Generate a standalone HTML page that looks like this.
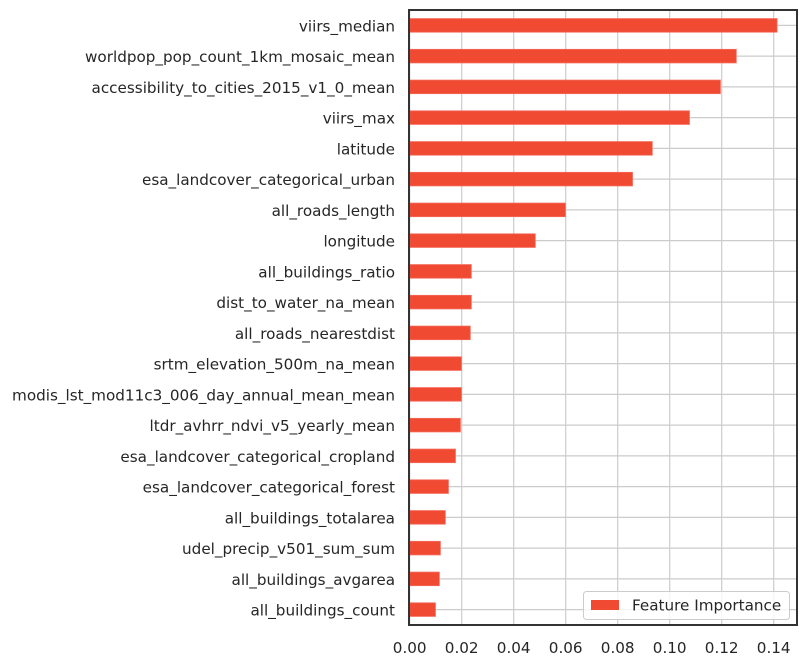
<!DOCTYPE html>
<html><head><meta charset="utf-8"><style>
body{margin:0;background:#fff;}
svg text{font-family:"DejaVu Sans","Liberation Sans",sans-serif;fill:#262626;font-size:15.2px;}
</style></head><body>
<svg id="chart" width="806" height="664" viewBox="0 0 806 664" xmlns="http://www.w3.org/2000/svg">
<g id="grid"></g>
<g id="bars"></g>
<g id="ylabels"></g>
<g id="xlabels"></g>
<rect x="409" y="10" width="388" height="615" fill="none" stroke="#333" stroke-width="2"/>
<g>
<rect x="583.5" y="591.5" width="206" height="28" rx="3" fill="#fff" fill-opacity="0.8" stroke="#ccc"/>
<rect x="591" y="600" width="28" height="10" fill="#f04a33"/>
<text x="632" y="610.5">Feature Importance</text>
</g>
</svg>
<script>
const categories=["viirs_median","worldpop_pop_count_1km_mosaic_mean","accessibility_to_cities_2015_v1_0_mean","viirs_max","latitude","esa_landcover_categorical_urban","all_roads_length","longitude","all_buildings_ratio","dist_to_water_na_mean","all_roads_nearestdist","srtm_elevation_500m_na_mean","modis_lst_mod11c3_006_day_annual_mean_mean","ltdr_avhrr_ndvi_v5_yearly_mean","esa_landcover_categorical_cropland","esa_landcover_categorical_forest","all_buildings_totalarea","udel_precip_v501_sum_sum","all_buildings_avgarea","all_buildings_count"];
const values=[0.1413,0.1256,0.1195,0.1076,0.0933,0.0857,0.0599,0.0483,0.0237,0.0237,0.0233,0.0199,0.0199,0.0195,0.0176,0.0149,0.0137,0.0118,0.0114,0.0099];
const xTicks=[0,0.02,0.04,0.06,0.08,0.10,0.12,0.14];
const xTickLabels=["0.00","0.02","0.04","0.06","0.08","0.10","0.12","0.14"];
const NS="http://www.w3.org/2000/svg";
const X0=409.7,XS=2600,YT=10,YB=625,L=409,R=797;
const band=(YB-YT)/categories.length;
const x=v=>X0+v*XS;
const y=i=>YT+band*(i+0.5);
const grid=document.getElementById('grid'),bars=document.getElementById('bars'),yl=document.getElementById('ylabels'),xl=document.getElementById('xlabels');
function mk(t,a){const e=document.createElementNS(NS,t);for(const k in a)e.setAttribute(k,a[k]);return e;}
xTicks.forEach((t,i)=>{
 const g=mk('line',{x1:x(t),x2:x(t),y1:YT,y2:YB,stroke:'#cccccc','stroke-width':1.2});
 
 
 grid.appendChild(g);
 const tx=mk('text',{x:x(t),y:653,'text-anchor':'middle'});tx.textContent=xTickLabels[i];
 
 
 xl.appendChild(tx);
});
categories.forEach((c,i)=>{
 const g=mk('line',{x1:L,x2:R,y1:y(i),y2:y(i),stroke:'#cccccc','stroke-width':1.2});
 
 
 grid.appendChild(g);
 const b=mk('rect',{x:X0,y:y(i)-6.8,width:x(values[i])-X0,height:13.6,fill:'#f04a33',stroke:'#f4695a','stroke-width':0.8});
 
 
 bars.appendChild(b);
 const t=mk('text',{x:395,y:y(i)+6,'text-anchor':'end'});t.textContent=c;
 
 
 yl.appendChild(t);
});
</script>
</body></html>
